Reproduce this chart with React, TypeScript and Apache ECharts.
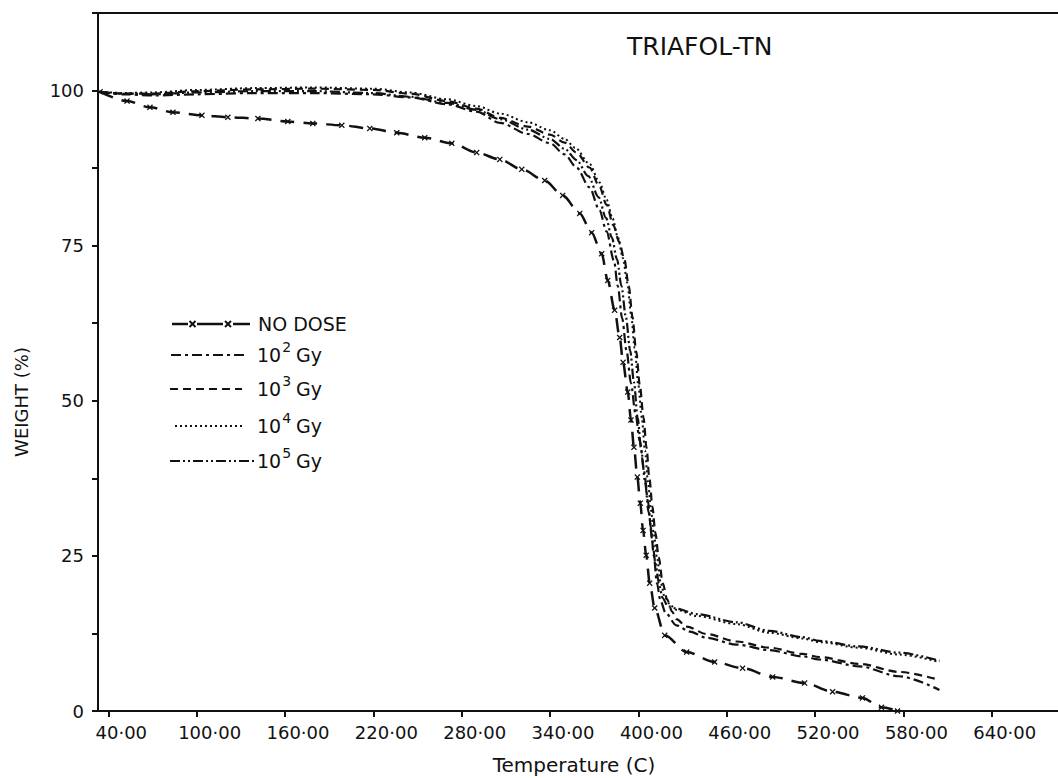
import React, { useEffect, useRef } from "react";
import * as echarts from "echarts";

// ---- data (temperature °C, weight %) ----
const noDose: [number, number][] = [
  [34.4, 99.8], [52.7, 98.3], [68.3, 97.3], [83.9, 96.5], [103.6, 96.0], [121.2, 95.7],
  [141.6, 95.5], [161.9, 95.0], [178.9, 94.7], [198.6, 94.4], [217.6, 93.9], [235.9, 93.2],
  [254.9, 92.4], [273.3, 91.5], [290.2, 90.0], [305.9, 88.9], [320.8, 87.3], [336.4, 85.5],
  [348.6, 83.1], [360.2, 80.2], [368.3, 77.1], [375.1, 73.7], [379.2, 69.4], [383.9, 64.6],
  [387.3, 60.2], [389.6, 56.2], [392.8, 51.4], [395.0, 46.9], [397.0, 42.5], [399.3, 37.7],
  [401.3, 33.5], [403.2, 29.1], [405.3, 25.1], [407.7, 20.6], [411.1, 16.6], [417.9, 12.2],
  [432.8, 9.5], [451.8, 7.9], [470.8, 6.9], [491.2, 5.5], [512.9, 4.5], [531.9, 3.1],
  [552.2, 2.1], [565.1, 0.6], [576.0, 0],
];
const dose1e2: [number, number][] = [
  [34.4, 99.8], [50, 99.4], [70, 99.2], [100, 99.4], [140, 99.6], [180, 99.6], [220, 99.4],
  [245, 98.9], [270, 97.8], [290, 96.6], [306, 94.8], [325, 93.0], [340, 91.5], [350, 89.7],
  [358, 87.6], [366.8, 84.4], [373.6, 80.7], [378.4, 77.3], [383.5, 72.5], [386, 68.5],
  [389, 63.3], [392, 58], [395, 52.8], [398, 48], [401, 43.5], [404, 38.5], [406.5, 33.8],
  [408.5, 29.5], [410.5, 25], [412.6, 20.6], [415, 17.8], [418.5, 15.8], [425.8, 13.8],
  [435, 12.8], [446.3, 11.8], [466.7, 10.7], [489.1, 9.8], [511.5, 8.8], [523, 8.3],
  [550, 7.2], [577, 5.6], [604.5, 3.4],
];
const dose1e3: [number, number][] = [
  [34.4, 99.8], [50, 99.5], [70, 99.5], [100, 99.9], [140, 100.2], [180, 100.3], [220, 100.1],
  [245, 99.5], [270, 98.3], [290, 97.1], [306, 95.6], [325, 94.2], [340, 92.9], [350, 91.6],
  [358, 90.0], [366.8, 87.6], [373.6, 84.5], [378.4, 81.6], [383, 78.3], [387, 75.6],
  [390.5, 72.8], [393.5, 68.5], [396, 63.5], [398.5, 58], [401, 52.5], [403.5, 47.3],
  [405.5, 42.5], [407.5, 37.5], [409.5, 33], [411.5, 28.8], [413.8, 24.8], [416.6, 20.6],
  [419.5, 18.0], [423, 16.0], [425.8, 14.8], [432.8, 13.6], [446.3, 12.4], [466.7, 11.2],
  [489.1, 10.2], [511.5, 9.2], [523, 8.7], [550, 7.6], [577, 6.3], [604.5, 5.0],
];
const dose1e4: [number, number][] = [
  [34.4, 99.8], [50, 99.6], [70, 99.7], [100, 100.1], [140, 100.4], [180, 100.5], [220, 100.3],
  [245, 99.7], [270, 98.6], [290, 97.5], [306, 96.3], [325, 94.9], [340, 93.6], [350, 92.2],
  [357, 90.8], [366.8, 88.2], [373.6, 85.2], [378.4, 82.4], [382.5, 79.4], [386, 76.4],
  [389.5, 73], [392.5, 69], [395, 64], [397.5, 58.5], [400, 52.5], [402.3, 47.3],
  [404.5, 42], [406.5, 37], [408.5, 32.5], [410.5, 28.5], [412.8, 24.5], [415.2, 20.6],
  [418, 18.3], [422, 17.0], [425.8, 16.3], [440, 15.3], [466.7, 14.0], [489.1, 12.6],
  [511.5, 11.7], [523, 11.1], [550, 10.2], [577, 9.1], [604.5, 7.9],
];
const dose1e5: [number, number][] = [
  [34.4, 99.8], [50, 99.5], [70, 99.4], [100, 99.7], [140, 99.9], [180, 99.9], [220, 99.6],
  [245, 99.0], [270, 98.0], [290, 96.9], [306, 95.4], [325, 93.7], [340, 92.2], [350, 90.6],
  [358, 88.8], [366, 86.2], [373, 82.8], [378, 79.5], [382, 76.3], [385.5, 72.8],
  [388.5, 68.5], [391.5, 63.5], [394.5, 58], [397, 53], [399.5, 47.3], [402, 42],
  [404.5, 37], [407, 32], [409.5, 27.5], [411.5, 24], [413.9, 20.6], [416.5, 18.2],
  [420, 16.9], [425.8, 16.5], [440, 15.6], [466.7, 14.3], [489.1, 12.9], [511.5, 11.9],
  [523, 11.3], [550, 10.4], [577, 9.4], [604.5, 8.1],
];

const xTickValues = [40, 100, 160, 220, 280, 340, 400, 460, 520, 580, 640];
const yLabelValues = [0, 25, 50, 75, 100];

const FONT = "DejaVu Sans";
const INK = "#111";

const xMarkPath =
  "path://M0,1.5L1.5,0L5,3.5L8.5,0L10,1.5L6.5,5L10,8.5L8.5,10L5,6.5L1.5,10L0,8.5L3.5,5Z";

function legendRow(
  y: number,
  x1: number,
  x2: number,
  dash: number[] | null,
  label: string,
  sup: string | null,
  textX: number
): any[] {
  const els: any[] = [];
  if (dash) {
    els.push({
      type: "line",
      shape: { x1, y1: y, x2, y2: y },
      style: { stroke: INK, lineWidth: 2.2, lineDash: dash },
      silent: true,
    });
  }
  const text = sup ? `{b|10}{s|${sup}}{b|${label}}` : `{b|${label}}`;
  els.push({
    type: "text",
    x: textX,
    y: y,
    style: {
      text,
      fill: INK,
      fontFamily: FONT,
      verticalAlign: "middle",
      align: "left",
      rich: {
        b: { fontSize: 19, fontFamily: FONT, fill: INK, lineHeight: 30, verticalAlign: "middle" },
        s: { fontSize: 14, fontFamily: FONT, fill: INK, verticalAlign: "top", padding: [0, 5, 0, 1] },
      },
    },
    silent: true,
  });
  return els;
}

export default function App() {
  const ref = useRef<HTMLDivElement>(null);
  useEffect(() => {
    if (!ref.current) return;
    const chart = echarts.init(ref.current, null, { renderer: "svg" });

    const legendEls: any[] = [];
    // NO DOSE legend: dashes with markers
    [[172, 188], [197, 223], [233, 250]].forEach(([a, b]) =>
      legendEls.push({
        type: "line",
        shape: { x1: a, y1: 324, x2: b, y2: 324 },
        style: { stroke: INK, lineWidth: 2.5 },
        silent: true,
      })
    );
    [192.5, 228].forEach((cx) => {
      legendEls.push({
        type: "line",
        shape: { x1: cx - 3, y1: 321, x2: cx + 3, y2: 327 },
        style: { stroke: INK, lineWidth: 2 },
        silent: true,
      });
      legendEls.push({
        type: "line",
        shape: { x1: cx + 3, y1: 321, x2: cx - 3, y2: 327 },
        style: { stroke: INK, lineWidth: 2 },
        silent: true,
      });
    });
    legendEls.push(...legendRow(324, 0, 0, null, "NO DOSE", null, 258));
    legendEls.push(...legendRow(355, 171, 247, [10, 4, 3, 4], "Gy", "2", 257));
    legendEls.push(...legendRow(389, 170, 242, [8, 5], "Gy", "3", 257));
    legendEls.push(...legendRow(426, 175, 245, [2, 3], "Gy", "4", 257));
    legendEls.push(...legendRow(461, 170, 256, [10, 3, 2, 3, 2, 3], "Gy", "5", 257));

    const common = {
      type: "line" as const,
      smooth: 0.3,
      smoothMonotone: "x" as const,
      symbol: "none",
      z: 3,
    };

    chart.setOption({
      animation: false,
      backgroundColor: "#fff",
      grid: { left: 98, right: 0, top: 13, bottom: 67 },
      xAxis: [
        {
          type: "value",
          min: 33,
          max: 685,
          position: "bottom",
          axisLine: { show: true, onZero: false, lineStyle: { color: INK, width: 2 } },
          axisTick: {
            show: true,
            inside: false,
            length: 6,
            customValues: xTickValues,
            lineStyle: { color: INK, width: 2 },
          },
          axisLabel: {
            customValues: xTickValues,
            formatter: (v: number) => v.toFixed(2).replace(".", "·"),
            color: INK,
            fontFamily: FONT,
            fontSize: 18,
            margin: 12,
            padding: [0, 0, 0, 26],
          },
          splitLine: { show: false },
        },
        {
          type: "value",
          min: 33,
          max: 685,
          position: "top",
          axisLine: { show: true, onZero: false, lineStyle: { color: INK, width: 2 } },
          axisTick: { show: false },
          axisLabel: { show: false },
          splitLine: { show: false },
        },
      ],
      yAxis: {
        type: "value",
        min: 0,
        max: 112.5,
        interval: 12.5,
        axisLine: { show: true, onZero: false, lineStyle: { color: INK, width: 2 } },
        axisTick: { show: true, inside: false, length: 6, lineStyle: { color: INK, width: 2 } },
        axisLabel: {
          formatter: (v: number) => (yLabelValues.includes(v) ? String(v) : ""),
          color: INK,
          fontFamily: FONT,
          fontSize: 18,
          margin: 14,
        },
        splitLine: { show: false },
      },
      graphic: [
        {
          type: "text",
          x: 627,
          y: 46,
          style: {
            text: "TRIAFOL-TN",
            fill: INK,
            fontFamily: FONT,
            fontSize: 25,
            verticalAlign: "middle",
            align: "left",
          },
          silent: true,
        },
        {
          type: "text",
          x: 21,
          y: 402,
          rotation: Math.PI / 2,
          style: {
            text: "WEIGHT (%)",
            fill: INK,
            fontFamily: FONT,
            fontSize: 18,
            align: "center",
            verticalAlign: "middle",
          },
          silent: true,
        },
        {
          type: "text",
          x: 574,
          y: 765,
          style: {
            text: "Temperature (C)",
            fill: INK,
            fontFamily: FONT,
            fontSize: 20,
            align: "center",
            verticalAlign: "middle",
          },
          silent: true,
        },
        ...legendEls,
      ],
      series: [
        {
          ...common,
          name: "NO DOSE",
          data: noDose,
          symbol: xMarkPath,
          symbolSize: 6,
          showSymbol: true,
          showAllSymbol: true,
          itemStyle: { color: INK },
          lineStyle: { color: INK, width: 2.5, type: [14, 9] },
        },
        { ...common, name: "10² Gy", data: dose1e2, lineStyle: { color: INK, width: 2.2, type: [10, 4, 3, 4] } },
        { ...common, name: "10³ Gy", data: dose1e3, lineStyle: { color: INK, width: 2.2, type: [8, 5] } },
        { ...common, name: "10⁴ Gy", data: dose1e4, lineStyle: { color: INK, width: 2, type: [2, 3] } },
        { ...common, name: "10⁵ Gy", data: dose1e5, lineStyle: { color: INK, width: 2.2, type: [10, 3, 2, 3, 2, 3] } },
      ],
    });
    return () => chart.dispose();
  }, []);
  return (
    <div
      ref={ref}
      style={{ position: "fixed", left: 0, top: 0, width: 1058, height: 778, background: "#fff" }}
    />
  );
}
